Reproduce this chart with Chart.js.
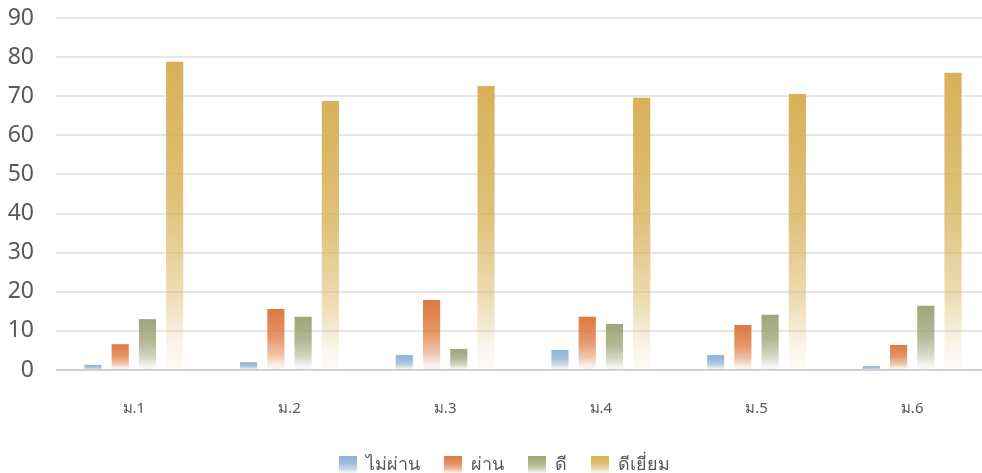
<!DOCTYPE html>
<html>
<head>
<meta charset="utf-8">
<script src="https://cdn.jsdelivr.net/npm/chart.js@4/dist/chart.umd.min.js"></script>
<style>
  html, body { margin: 0; padding: 0; background: #fff; overflow: hidden; }
  #wrap { width: 990px; height: 473px; }
</style>
</head>
<body>
<div id="wrap"><canvas id="chart"></canvas></div>
<script>
// ข้อมูลกราฟ
const categories = ['ม.1', 'ม.2', 'ม.3', 'ม.4', 'ม.5', 'ม.6'];
const seriesNames = ['ไม่ผ่าน', 'ผ่าน', 'ดี', 'ดีเยี่ยม'];
const failValues = [1.3, 2.0, 3.8, 5.1, 3.8, 1.0];
const passValues = [6.6, 15.6, 17.9, 13.6, 11.5, 6.4];
const goodValues = [13.0, 13.6, 5.4, 11.8, 14.1, 16.4];
const excellentValues = [78.8, 68.8, 72.6, 69.6, 70.6, 76.0];
const yTicks = [0, 10, 20, 30, 40, 50, 60, 70, 80, 90];

const colors = [[143, 176, 211], [221, 122, 64], [158, 166, 122], [216, 177, 88]];
const FONT = "'Noto Sans', 'DejaVu Sans', sans-serif";

function rgba(c, a) {
    return `rgba(${c[0]}, ${c[1]}, ${c[2]}, ${a})`;
}

function addStops(g, c) {
    g.addColorStop(0, rgba(c, 1));
    g.addColorStop(0.45, rgba(c, 0.8));
    g.addColorStop(0.75, rgba(c, 0.45));
    g.addColorStop(0.92, rgba(c, 0.12));
    g.addColorStop(1, rgba(c, 0.05));
    return g;
}

function barFill(c) {
    return (ctx) => {
        const chart = ctx.chart;
        if (!chart.chartArea || ctx.type !== 'data') return rgba(c, 1);
        const y = chart.scales.y;
        const top = y.getPixelForValue(ctx.raw);
        const base = y.getPixelForValue(0);
        if (!isFinite(top) || base - top < 1) return rgba(c, 1);
        return addStops(chart.ctx.createLinearGradient(0, top, 0, base), c);
    };
}

function legendBox(c) {
    const cv = document.createElement('canvas');
    cv.width = 18; cv.height = 18;
    const x = cv.getContext('2d');
    x.fillStyle = addStops(x.createLinearGradient(0, 0, 0, 18), c);
    x.fillRect(0, 0, 18, 18);
    return cv;
}

const valueSets = [failValues, passValues, goodValues, excellentValues];
const datasets = seriesNames.map((name, i) => ({
    label: name,
    data: valueSets[i],
    backgroundColor: barFill(colors[i]),
    pointStyle: legendBox(colors[i]),
    borderWidth: 0,
    categoryPercentage: 0.7,
    barPercentage: 0.63
}));

// เลื่อน legend ให้ตรงกับภาพต้นฉบับ
const legendShift = {
    id: 'legendShift',
    afterLayout(chart) {
        chart.legend.left += 9;
        chart.legend.right += 9;
        chart.legend.top += 11;
        chart.legend.bottom += 11;
    }
};

new Chart(document.getElementById('chart'), {
    type: 'bar',
    data: { labels: categories, datasets },
    plugins: [legendShift],
    options: {
        responsive: true,
        maintainAspectRatio: false,
        animation: false,
        layout: { padding: { top: 18, right: 0, bottom: 0, left: 0 } },
        plugins: {
            tooltip: { enabled: false },
            legend: {
                position: 'bottom',
                labels: {
                    usePointStyle: true,
                    boxWidth: 18,
                    boxHeight: 18,
                    padding: 24,
                    color: '#595959',
                    font: { family: FONT, size: 18 }
                }
            }
        },
        scales: {
            x: {
                grid: { display: false },
                border: { display: false },
                ticks: { color: '#595959', font: { family: FONT, size: 15 }, padding: 22 },
                afterFit(scale) { scale.height = 51; }
            },
            y: {
                min: 0,
                max: 90,
                afterBuildTicks(scale) { scale.ticks = yTicks.map(v => ({ value: v })); },
                afterFit(scale) {
                    scale.width = 56;
                    scale.paddingTop = 0;
                    scale.paddingBottom = 0;
                },
                border: { display: false },
                grid: {
                    drawTicks: false,
                    lineWidth: 2,
                    color: (ctx) => ctx.tick && ctx.tick.value === 0 ? '#d0d0d0' : '#e6e6e6'
                },
                ticks: { color: '#595959', font: { family: FONT, size: 23 }, padding: 22 }
            }
        }
    }
});
</script>
</body>
</html>
